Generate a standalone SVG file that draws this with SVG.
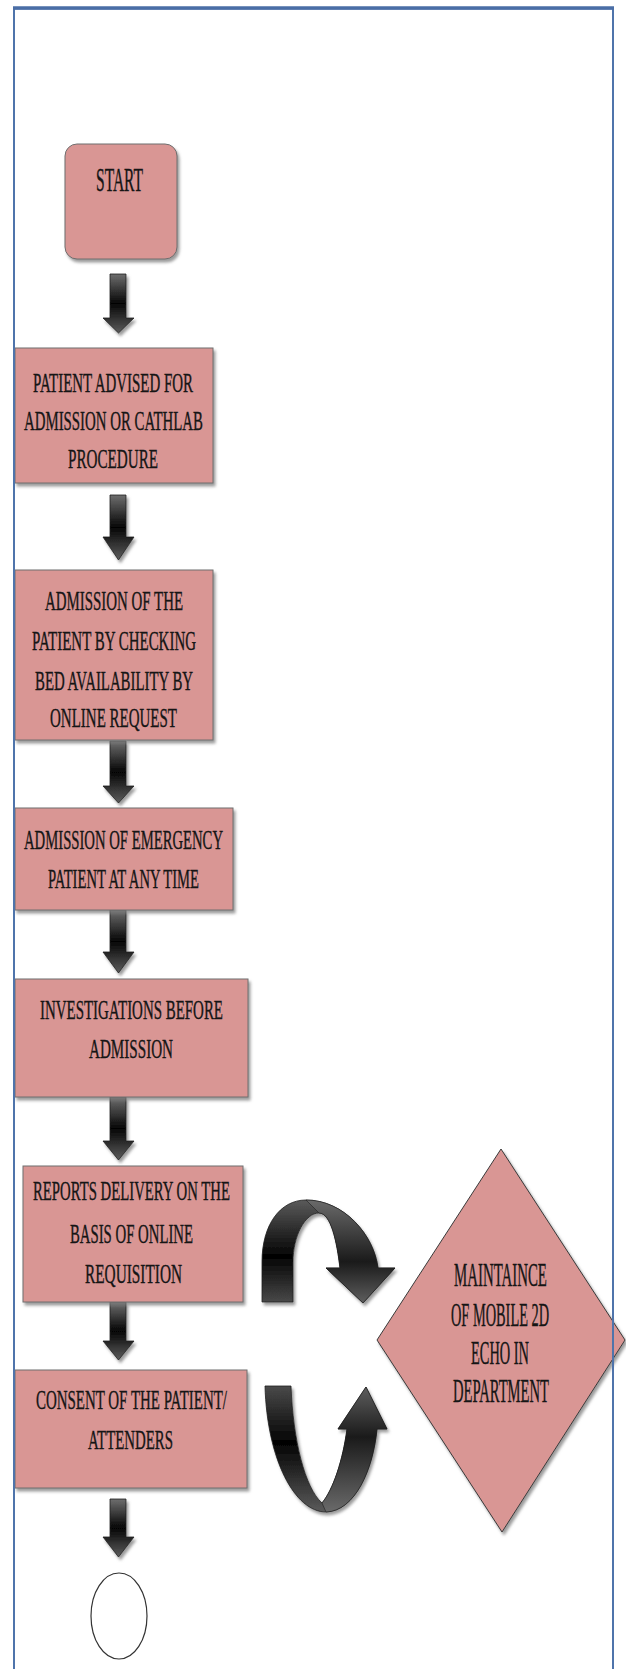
<svg xmlns="http://www.w3.org/2000/svg" width="626" height="1669" viewBox="0 0 626 1669">
<defs>
<filter id="sh" x="-10%" y="-10%" width="130%" height="130%">
<feDropShadow dx="2" dy="3" stdDeviation="1.5" flood-color="#7a7a7a" flood-opacity="0.75"/>
</filter>
<linearGradient id="ag" x1="0" y1="0" x2="0" y2="1">
<stop offset="0" stop-color="#6e6e6e"/>
<stop offset="0.5" stop-color="#050505"/>
<stop offset="0.72" stop-color="#2c2c2c"/>
<stop offset="1" stop-color="#5c5c5c"/>
</linearGradient>
<linearGradient id="cg" x1="0" y1="0" x2="0" y2="1">
<stop offset="0" stop-color="#5a5a5a"/>
<stop offset="0.55" stop-color="#030303"/>
<stop offset="1" stop-color="#4a4a4a"/>
</linearGradient>
<linearGradient id="cg2" x1="0" y1="0" x2="0" y2="1">
<stop offset="0" stop-color="#4a4a4a"/>
<stop offset="0.45" stop-color="#030303"/>
<stop offset="1" stop-color="#5a5a5a"/>
</linearGradient>
<linearGradient id="fg" x1="0" y1="0" x2="0" y2="1">
<stop offset="0" stop-color="#6a6a6a"/>
<stop offset="0.6" stop-color="#1a1a1a"/>
<stop offset="1" stop-color="#5e5e5e"/>
</linearGradient>
<linearGradient id="fg2" x1="0" y1="0" x2="0" y2="1">
<stop offset="0" stop-color="#5e5e5e"/>
<stop offset="0.4" stop-color="#1a1a1a"/>
<stop offset="1" stop-color="#6a6a6a"/>
</linearGradient>
</defs>
<style>
.box{fill:#d99694;stroke:#6f6f6f;stroke-width:1;filter:url(#sh)}
.t{font-family:"Liberation Serif","Times New Roman",serif;font-size:28px;fill:#151515;stroke:#151515;stroke-width:0.4;text-anchor:middle}
.tl{font-size:33px}
.arr{fill:url(#ag);stroke:#1e1e1e;stroke-width:0.8;filter:url(#sh)}
.carr{stroke:#1e1e1e;stroke-width:0.8;filter:url(#sh)}
</style>
<rect width="626" height="1669" fill="#ffffff"/>

<g id="connectors">
<path class="arr" d="M110,274 H126 V318 H134 L118.5,333 L103,318 H110 Z"/>
<path class="arr" d="M110,495 H126 V537 H134 L118.5,560 L103,537 H110 Z"/>
<path class="arr" d="M110,741 H126 V786 H134 L118.5,803 L103,786 H110 Z"/>
<path class="arr" d="M110,910 H126 V952 H134 L118.5,973 L103,952 H110 Z"/>
<path class="arr" d="M110,1097 H126 V1141 H134 L118.5,1160 L103,1141 H110 Z"/>
<path class="arr" d="M110,1302 H126 V1341 H134 L118.5,1360 L103,1341 H110 Z"/>
<path class="arr" d="M110,1499 H126 V1537 H134 L118.5,1557 L103,1537 H110 Z"/>
<g id="curve-top">
<path class="carr" fill="url(#cg)" d="M262,1302 L262,1262 C262,1225 280,1200 306,1200 C344,1200 374,1235 378,1268 L395,1268 L363,1303 L326,1268 L340,1268 C337,1242 331,1213 319,1213 C305,1213 293,1236 293,1262 L293,1302 Z"/>
<path fill="url(#fg)" stroke="#1e1e1e" stroke-width="0.6" d="M306,1200 C344,1200 374,1235 378,1268 L395,1268 L363,1303 L326,1268 L340,1268 C337,1242 331,1213 319,1213 Z"/>
</g>
<g id="curve-bottom">
<path class="carr" fill="url(#cg2)" d="M265,1386 L291,1386 C293,1440 305,1488 322,1503 C333,1490 343,1460 347,1429 L338,1429 L366,1387 L387,1429 L377,1429 C373,1470 355,1511 326,1512 C295,1512 267,1460 265,1386 Z"/>
<path fill="url(#fg2)" stroke="#1e1e1e" stroke-width="0.6" d="M322,1503 C333,1490 343,1460 347,1429 L338,1429 L366,1387 L387,1429 L377,1429 C373,1470 355,1511 326,1512 Z"/>
</g>
</g>

<g id="start">
<rect class="box" x="65" y="144" width="112" height="115" rx="12"/>
<text class="t tl" x="119.5" y="191" textLength="47" lengthAdjust="spacingAndGlyphs">START</text>
</g>

<g id="advised">
<rect class="box" x="15" y="348" width="198" height="135"/>
<text class="t" x="113" y="392" textLength="160" lengthAdjust="spacingAndGlyphs">PATIENT ADVISED FOR</text>
<text class="t" x="113.5" y="430" textLength="179" lengthAdjust="spacingAndGlyphs">ADMISSION OR CATHLAB</text>
<text class="t" x="113" y="468" textLength="90" lengthAdjust="spacingAndGlyphs">PROCEDURE</text>
</g>

<g id="admission">
<rect class="box" x="15" y="570" width="198" height="170"/>
<text class="t" x="114" y="610" textLength="138" lengthAdjust="spacingAndGlyphs">ADMISSION OF THE</text>
<text class="t" x="114" y="650" textLength="164" lengthAdjust="spacingAndGlyphs">PATIENT BY CHECKING</text>
<text class="t" x="114" y="690" textLength="158" lengthAdjust="spacingAndGlyphs">BED AVAILABILITY BY</text>
<text class="t" x="113.5" y="727" textLength="127" lengthAdjust="spacingAndGlyphs">ONLINE REQUEST</text>
</g>

<g id="emergency">
<rect class="box" x="15" y="808" width="218" height="102"/>
<text class="t" x="123.5" y="849" textLength="199" lengthAdjust="spacingAndGlyphs">ADMISSION OF EMERGENCY</text>
<text class="t" x="123.5" y="888" textLength="151" lengthAdjust="spacingAndGlyphs">PATIENT AT ANY TIME</text>
</g>

<g id="investigations">
<rect class="box" x="15" y="979" width="233" height="118"/>
<text class="t" x="131.5" y="1019" textLength="183" lengthAdjust="spacingAndGlyphs">INVESTIGATIONS BEFORE</text>
<text class="t" x="131" y="1058" textLength="84" lengthAdjust="spacingAndGlyphs">ADMISSION</text>
</g>

<g id="reports">
<rect class="box" x="23" y="1166" width="220" height="136"/>
<text class="t" x="131.5" y="1200" textLength="197" lengthAdjust="spacingAndGlyphs">REPORTS DELIVERY ON THE</text>
<text class="t" x="131.5" y="1243" textLength="123" lengthAdjust="spacingAndGlyphs">BASIS OF ONLINE</text>
<text class="t" x="133.5" y="1283" textLength="97" lengthAdjust="spacingAndGlyphs">REQUISITION</text>
</g>

<g id="consent">
<rect class="box" x="15" y="1370" width="232" height="118"/>
<text class="t" x="131.5" y="1409" textLength="191" lengthAdjust="spacingAndGlyphs">CONSENT OF THE PATIENT/</text>
<text class="t" x="130.5" y="1449" textLength="85" lengthAdjust="spacingAndGlyphs">ATTENDERS</text>
</g>

<g id="echo">
<polygon class="box" points="501,1149 625,1340 502,1532 377,1340" style="stroke:#3a3a3a"/>
<text class="t tl" transform="translate(500.5,1286) scale(0.44,1)" x="0" y="0" textLength="211" lengthAdjust="spacingAndGlyphs">MAINTAINCE</text>
<text class="t tl" transform="translate(500,1326) scale(0.44,1)" x="0" y="0" textLength="223" lengthAdjust="spacingAndGlyphs">OF MOBILE 2D</text>
<text class="t tl" transform="translate(500,1364) scale(0.44,1)" x="0" y="0" textLength="132" lengthAdjust="spacingAndGlyphs">ECHO IN</text>
<text class="t tl" transform="translate(501,1402) scale(0.44,1)" x="0" y="0" textLength="218" lengthAdjust="spacingAndGlyphs">DEPARTMENT</text>
</g>

<g id="end">
<ellipse cx="119" cy="1616" rx="28" ry="43" fill="#ffffff" stroke="#333333" stroke-width="1.2"/>
</g>

<g id="frame">
<path d="M14,1669 V8.5 H613 V1669" fill="none" stroke="#4f74ab" stroke-width="2"/>
<line x1="13" y1="8" x2="614" y2="8" stroke="#4a6ea6" stroke-width="3.5"/>
</g>
</svg>
